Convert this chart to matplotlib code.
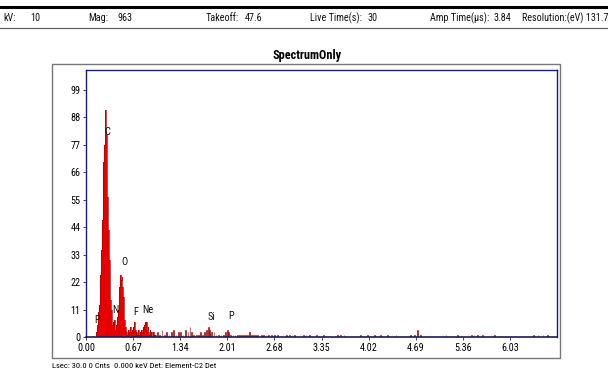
import matplotlib
matplotlib.use("Agg")
import matplotlib.pyplot as plt
from matplotlib.patches import Rectangle
from matplotlib.lines import Line2D

plt.rcParams['font.family'] = ['Roboto Condensed', 'DejaVu Sans']

# ---- data (keV, counts) ----
main_energy = [round(0.14 + 0.01 * i, 2) for i in range(86)]
main_counts = [0, 2, 5, 8, 10, 13, 18, 25, 35, 47, 59,
               70, 77, 86, 91, 81, 69, 56, 43, 31, 21,
               15, 11, 7, 5, 6, 4, 7, 3, 5, 6,
               8, 11, 15, 20, 25, 23, 24, 20, 16, 11,
               7, 4, 2, 2, 1, 3, 1, 2, 4, 1,
               2, 3, 1, 4, 6, 3, 1, 2, 1, 2,
               3, 1, 2, 1, 3, 2, 4, 3, 5, 6,
               4, 6, 3, 4, 2, 1, 3, 1, 2, 1,
               0, 2, 1, 0, 1]

tail_energy = [1.02, 1.05, 1.08, 1.12, 1.15, 1.18, 1.22, 1.25, 1.28, 1.31,
               1.35, 1.38, 1.42, 1.45, 1.48, 1.50, 1.53, 1.57, 1.60, 1.63,
               1.66, 1.69, 1.72, 1.74, 1.76, 1.79, 1.82, 1.85, 1.88, 1.92,
               1.95, 1.98, 2.01, 2.03, 2.06, 2.09, 2.12, 2.15, 2.18, 2.21,
               2.24, 2.27, 2.30, 2.33, 2.35, 2.38, 2.41, 2.44, 2.50, 2.53,
               2.56, 2.60, 2.64, 2.68, 2.72, 2.85, 2.89, 2.93, 2.97, 3.09,
               3.13, 3.18, 3.28, 3.38, 3.58, 3.62, 3.67, 3.91, 4.00, 4.10,
               4.19, 4.29, 4.41, 4.62, 4.67, 4.72, 4.76, 5.12, 5.29, 5.48,
               5.52, 5.57, 5.64, 5.81, 6.36, 6.43, 6.50, 6.57]
tail_counts = [2, 1, 3, 1, 2, 1, 2, 3, 1, 2,
               2, 1, 3, 2, 4, 2, 1, 1, 1, 2,
               1, 2, 3, 4, 3, 2, 2, 1, 1, 1,
               1, 2, 3, 2, 1, 1, 1, 1, 1, 1,
               1, 1, 1, 2, 1, 1, 1, 1, 1, 1,
               1, 1, 1, 1, 1, 1, 1, 1, 1, 1,
               1, 1, 1, 1, 1, 1, 1, 1, 1, 1,
               1, 1, 1, 1, 1, 3, 1, 1, 1, 1,
               1, 1, 1, 1, 1, 1, 1, 1]

peak_labels = ['P', 'C', 'N', 'O', 'F', 'Ne', 'Si', 'P']
label_x = [0.16, 0.30, 0.42, 0.55, 0.70, 0.88, 1.78, 2.06]
label_y = [5, 80, 9, 28, 8, 9, 6, 6.5]

x_ticks = [0.00, 0.67, 1.34, 2.01, 2.68, 3.35, 4.02, 4.69, 5.36, 6.03]
y_ticks = [0, 11, 22, 33, 44, 55, 66, 77, 88, 99]

header = [("kV:", 3), ("10", 30), ("Mag:", 88), ("963", 117),
          ("Takeoff:", 206), ("47.6", 245), ("Live Time(s):", 310),
          ("30", 368), ("Amp Time(\u00b5s):", 430), ("3.84", 494),
          ("Resolution:(eV) 131.7", 522)]

# ---- figure ----
W, H = 608, 376
fig = plt.figure(figsize=(W / 100, H / 100), dpi=100)

fig.add_artist(Line2D([0, 1], [1 - 7 / H, 1 - 7 / H], color='black', lw=2.2))
fig.add_artist(Line2D([0, 1], [1 - 28 / H, 1 - 28 / H], color='#555555', lw=0.8))
for txt, xp in header:
    fig.text(xp / W, 1 - 18 / H, txt, fontsize=7.3, va='center', ha='left',
             color='#111111')

fig.add_artist(Rectangle((52 / W, 1 - 358 / H), (560 - 52) / W, (358 - 64) / H,
                         transform=fig.transFigure, fill=False,
                         edgecolor='#777777', lw=1.0))
fig.text(307 / W, 1 - 56 / H, "SpectrumOnly", fontsize=8.8, fontweight='bold',
         ha='center', va='center')

ax = fig.add_axes([86 / W, 1 - 337 / H, (557 - 86) / W, (337 - 70) / H])
ax.fill_between(main_energy, main_counts, step='mid', color='#e80000',
                linewidth=0)
ax.step(main_energy, main_counts, where='mid', color='#b00000', lw=0.5)
ax.bar(tail_energy, tail_counts, width=0.012, color='#b00000',
       edgecolor='#8b0000', linewidth=0.4, align='center')

for t, xx, yy in zip(peak_labels, label_x, label_y):
    ax.text(xx, yy, t, fontsize=7.5, ha='center', va='bottom', color='#111111')

ax.set_xlim(0, 6.7)
ax.set_ylim(0, 107)
ax.set_xticks(x_ticks)
ax.set_xticklabels([f"{v:.2f}" for v in x_ticks])
ax.set_yticks(y_ticks)
ax.set_yticklabels([str(v) for v in y_ticks])
ax.tick_params(axis='both', labelsize=7.3, length=2, width=0.6, color='#1a1a8c', pad=2)
for s in ['left', 'top', 'right']:
    ax.spines[s].set_color('#1a1a8c')
    ax.spines[s].set_linewidth(1.0)
ax.spines['bottom'].set_color('#1a1a5c')
ax.spines['bottom'].set_linewidth(1.2)

fig.text(52 / W, 1 - 366 / H, "Lsec: 30.0 0 Cnts  0.000 keV Det: Element-C2 Det",
         fontsize=6.1, ha='left', va='center')

fig.savefig("out.png", dpi=100)
